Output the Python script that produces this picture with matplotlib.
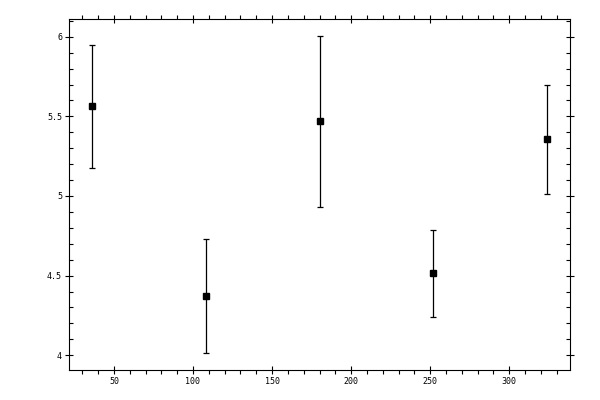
import numpy as np
import matplotlib
matplotlib.use("Agg")
import matplotlib.pyplot as plt
from matplotlib.ticker import MultipleLocator

# data
xpos = [36, 108, 180, 252, 324]
yval = [5.563, 4.373, 5.470, 4.515, 5.355]
yerr = [0.388, 0.360, 0.536, 0.272, 0.340]

fig = plt.figure(figsize=(6, 4), dpi=100)
ax = fig.add_axes([0.115, 0.074, 0.835, 0.878])

ax.errorbar(xpos, yval, yerr=yerr, fmt='s', color='black', ms=5,
            ecolor='black', elinewidth=0.9, capsize=2.5, capthick=0.9)

ax.set_xlim(21.6, 338.4)
ax.set_ylim(3.905, 6.11)

ax.xaxis.set_major_locator(MultipleLocator(50))
ax.xaxis.set_minor_locator(MultipleLocator(10))
ax.yaxis.set_major_locator(MultipleLocator(0.5))
ax.yaxis.set_minor_locator(MultipleLocator(0.1))
ax.yaxis.set_major_formatter(plt.FuncFormatter(lambda v, p: '%g' % v))

ax.tick_params(which='major', direction='inout', length=6, width=0.8,
               top=True, right=True, labelsize=6, pad=2)
ax.tick_params(axis='x', which='minor', direction='out', length=2.8, width=0.8,
               top=True)
ax.tick_params(axis='y', which='minor', direction='in', length=2.8, width=0.8,
               right=True)
for lab in ax.get_xticklabels() + ax.get_yticklabels():
    lab.set_family('DejaVu Sans Mono')
for s in ax.spines.values():
    s.set_linewidth(0.8)

plt.savefig("out.png", dpi=100)
